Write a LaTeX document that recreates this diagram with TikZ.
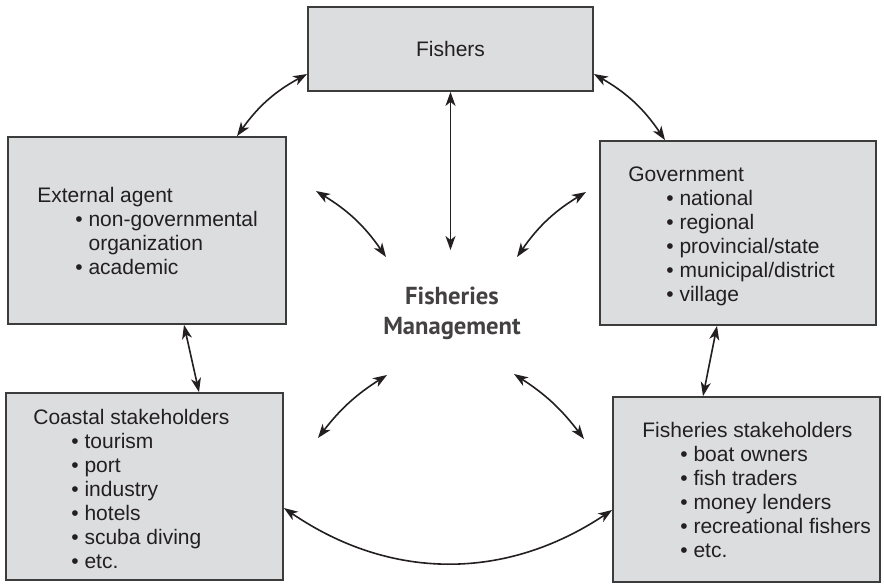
\documentclass[tikz,border=0pt]{standalone}
\usepackage{fontspec}
\setmainfont{Liberation Sans}
\newfontfamily\mgmtfont{PT Sans}
\usetikzlibrary{arrows.meta, positioning}
\usepackage{xcolor}
\definecolor{box_fill}{RGB}{220, 221, 223}
\definecolor{box_line}{RGB}{60, 60, 60}
\definecolor{ink}{RGB}{35, 31, 32}

% bullet line and its continuation
\newcommand{\bitem}[1]{\\\hspace*{19pt}\textbullet\ #1}
\newcommand{\bcont}[1]{\\\hspace*{19pt}\phantom{\textbullet}\ #1}

\begin{document}
\begin{tikzpicture}[x=0.5pt, y=-0.5pt, font=\fontsize{10.5pt}{12pt}\selectfont,
    box/.style={draw=box_line, fill=box_fill, line width=0.9pt, inner sep=0pt, text=ink},
    boxtext/.style={anchor=north west, align=left, inner sep=0pt, text=ink},
    link/.style={{Stealth[length=7pt, width=5pt, inset=2pt]}-{Stealth[length=7pt, width=5pt, inset=2pt]}, line width=0.8pt, draw=ink}]

      \fill[white] (0,0) rectangle (884,584);
      \useasboundingbox (0,0) rectangle (884,584);

      % 1. CAJAS
      \node[box, minimum width=142.5pt, minimum height=42pt] (fishers) at (450.5,49) {Fishers};
      \node[box, minimum width=139pt, minimum height=93.5pt] (external) at (147,230.5) {};
      \node[box, minimum width=138pt, minimum height=92pt] (government) at (738,233) {};
      \node[box, minimum width=138.5pt, minimum height=93.5pt] (coastal) at (144.5,486.5) {};
      \node[box, minimum width=133.5pt, minimum height=92.5pt] (fishstake) at (746.5,489.5) {};

      % 2. TEXTOS
      \node[boxtext] (external-txt) at (37,187) {External agent
        \bitem{non-governmental}
        \bcont{organization}
        \bitem{academic}};

      \node[boxtext] (government-txt) at (628,166) {Government
        \bitem{national}
        \bitem{regional}
        \bitem{provincial/state}
        \bitem{municipal/district}
        \bitem{village}};

      \node[boxtext] (coastal-txt) at (33,409) {Coastal stakeholders
        \bitem{tourism}
        \bitem{port}
        \bitem{industry}
        \bitem{hotels}
        \bitem{scuba diving}
        \bitem{etc.}};

      \node[boxtext] (fishstake-txt) at (642,422) {Fisheries stakeholders
        \bitem{boat owners}
        \bitem{fish traders}
        \bitem{money lenders}
        \bitem{recreational fishers}
        \bitem{etc.}};

      \node[font={\mgmtfont\bfseries\fontsize{12.3pt}{15pt}\selectfont}, align=center, text=ink!85] (mgmt) at (452,313) {Fisheries\\Management};

      % 3. EXTREMOS LIBRES
      \coordinate (mgmt-top) at (450.5,250);
      \coordinate (ul-out) at (316,191);
      \coordinate (ul-in) at (386,257);
      \coordinate (ur-out) at (586,192);
      \coordinate (ur-in) at (517,257);
      \coordinate (ll-in) at (387,375);
      \coordinate (ll-out) at (318,438);
      \coordinate (lr-in) at (514,374);
      \coordinate (lr-out) at (584,439);

      % 4. FLECHAS
      \draw[link] ([yshift=-12.5pt]fishers.west) to[bend right=13] ([xshift=45pt]external.north);
      \draw[link] ([yshift=-12.5pt]fishers.east) to[bend left=13] ([xshift=-36.5pt]government.north);
      \draw[link] (fishers) -- (mgmt-top);
      \draw[link] (ul-out) to[bend left=12] (ul-in);
      \draw[link] (ur-out) to[bend right=12] (ur-in);
      \draw[link] ([xshift=18.5pt]external.south) -- ([xshift=27.25pt]coastal.north);
      \draw[link] ([xshift=-10.5pt]government.south) -- ([xshift=-21.75pt]fishstake.north);
      \draw[link] (ll-in) to[bend right=10] (ll-out);
      \draw[link] (lr-in) to[bend left=10] (lr-out);
      \draw[link] ([yshift=-10.75pt]coastal.east) to[bend right=34] ([yshift=-10.25pt]fishstake.west);

\end{tikzpicture}
\end{document}
